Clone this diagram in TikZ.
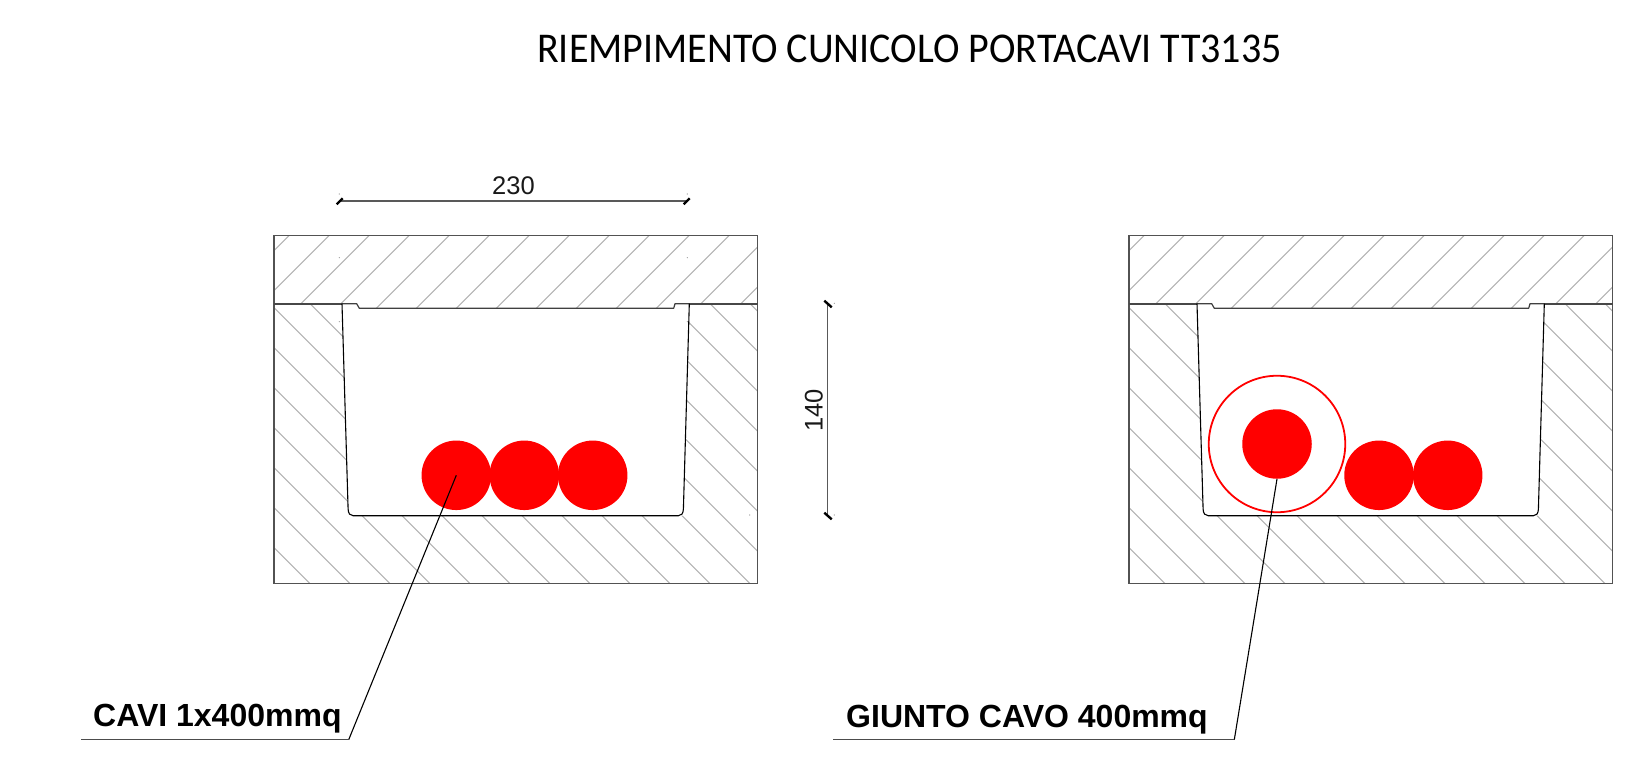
\documentclass[tikz,border=0pt]{standalone}
\usepackage{graphicx}
\usepackage{fontspec}
\setmainfont{Liberation Sans}
\newfontfamily\titlefont{Carlito}
\tikzset{
  frameline/.style={draw=black!68,line width=1.5pt},
  joinline/.style={draw=black!72,line width=1.8pt},
  capline/.style={draw=black!75,line width=1.2pt,line join=round},
  wallline/.style={draw=black,line width=1.1pt,line join=round},
  hatchline/.style={draw=black!30,line width=1.1pt},
  cable/.style={circle,fill=red,draw=none,inner sep=0pt,minimum size=69.5pt},
  jointring/.style={circle,draw=red,line width=1.8pt,fill=none,inner sep=0pt,minimum size=136.5pt},
  leader/.style={draw=black,line width=1.1pt,line join=miter},
  shelfline/.style={draw=black!70,line width=1.3pt},
  dimline/.style={draw=black!65,line width=1.5pt},
  dimtick/.style={draw=black,line width=2.4pt},
  speck/.style={fill=black!45,draw=none},
  dimtext/.style={font=\fontsize{25.5}{25.5}\selectfont,text=black!90,inner sep=0pt},
  labeltext/.style={font=\fontsize{32}{32}\selectfont\bfseries,text=black,inner sep=0pt,anchor=base west},
  titletext/.style={font=\titlefont\fontsize{40}{40}\selectfont,text=black,inner sep=0pt,anchor=base west}
}
\newcommand{\trenchsection}[1]{%
  \begin{scope}[xshift=#1pt]
    \begin{scope}
      \clip (274,235.7) -- (757.7,235.7) -- (757.7,303.7) -- (675,303.7) -- (673.7,308.3)
        -- (359.3,308.3) -- (356.7,303.7) -- (274,303.7) -- cycle;
      \foreach \k in {0,...,13} {
        \pgfmathsetmacro{\c}{524.7+40*\k}
        \draw[hatchline] ({\c-230},230) -- ({\c-310},310);
      }
    \end{scope}
    \begin{scope}
      \clip (274,303.7) -- (342,303.7) -- (348.3,515.7) -- (683.3,515.7) -- (689.3,303.7)
        -- (757.7,303.7) -- (757.7,583.3) -- (274,583.3) -- cycle;
      \foreach \k in {-8,...,11} {
        \pgfmathsetmacro{\c}{6.3+40*\k}
        \draw[hatchline] ({\c+300},300) -- ({\c+590},590);
      }
    \end{scope}
    \draw[frameline] (274,303.7) -- (274,235.7) -- (757.7,235.7) -- (757.7,303.7);
    \draw[frameline] (274,303.7) -- (274,583.3) -- (757.7,583.3) -- (757.7,303.7);
    \draw[joinline] (274,303.7) -- (342,303.7);
    \draw[joinline] (689.3,303.7) -- (757.7,303.7);
    \draw[capline] (342,303.7) -- (356.7,303.7) -- (359.3,308.3) -- (673.7,308.3) -- (675,303.7) -- (689.3,303.7);
    \draw[wallline] (342,303.7) -- (348.1,509) .. controls (348.3,513.5) and (350,515.7) .. (353,515.7)
      -- (678.5,515.7) .. controls (681.5,515.7) and (683.2,513.5) .. (683.4,509) -- (689.3,303.7);
  \end{scope}%
}
\begin{document}
\begin{tikzpicture}[x=1pt,y=-1pt]
  \useasboundingbox (0,0) rectangle (1633,762);
  \node[titletext] (title) at (537,62.5) {\scalebox{1}[1.06]{RIEMPIMENTO CUNICOLO PORTACAVI TT3135}};

  \trenchsection{0}
  \trenchsection{855}

  % left section cables
  \node[cable] (a1) at (456.3,475.3) {};
  \node[cable] (a2) at (524.3,475.3) {};
  \node[cable] (a3) at (592.7,475.3) {};

  % right section cables
  \node[jointring] (ring) at (1277,444) {};
  \node[cable] (b1) at (1277,444) {};
  \node[cable] (b2) at (1379,475.3) {};
  \node[cable] (b3) at (1447.7,475.3) {};

  % width dimension
  \coordinate (w1) at (340,201);
  \coordinate (w2) at (686.7,201);
  \draw[dimline] (w1) -- (w2);
  \draw[dimtick] (336.7,204.3) -- (342.7,198.3);
  \draw[dimtick] (683.7,204.3) -- (689.7,198.3);
  \node[dimtext,anchor=base] (wlabel) at (513.5,194.3) {230};

  % height dimension
  \coordinate (h1) at (827.7,304);
  \coordinate (h2) at (827.7,516);
  \draw[dimline] (h1) -- (h2);
  \draw[dimtick] (824.3,300.7) -- (831.7,307.3);
  \draw[dimtick] (824.3,512.7) -- (831.7,519.3);
  \node[dimtext,rotate=90,anchor=base] (hlabel) at (822.7,410.5) {140};

  % specks
  \foreach \p in {(339.3,194),(339.3,257.7),(339.3,321.7),(687.3,194),(687.3,257.7),(687.3,321.7),(834.3,303.3),(834.3,515),(749.7,515)}
    \fill[speck] \p circle (0.6);

  % leaders
  \coordinate (l1) at (348.7,739.7);
  \coordinate (l2) at (81,739.7);
  \draw[leader] (a1.center) -- (l1);
  \draw[shelfline] (l1) -- (l2);
  \node[labeltext] (llabel) at (93,726.7) {CAVI 1x400mmq};

  \coordinate (r1) at (1234.3,739.7);
  \coordinate (r2) at (833.3,739.7);
  \draw[leader] (b1.south) -- (r1);
  \draw[shelfline] (r1) -- (r2);
  \node[labeltext] (rlabel) at (846,727.5) {GIUNTO CAVO 400mmq};
\end{tikzpicture}
\end{document}
